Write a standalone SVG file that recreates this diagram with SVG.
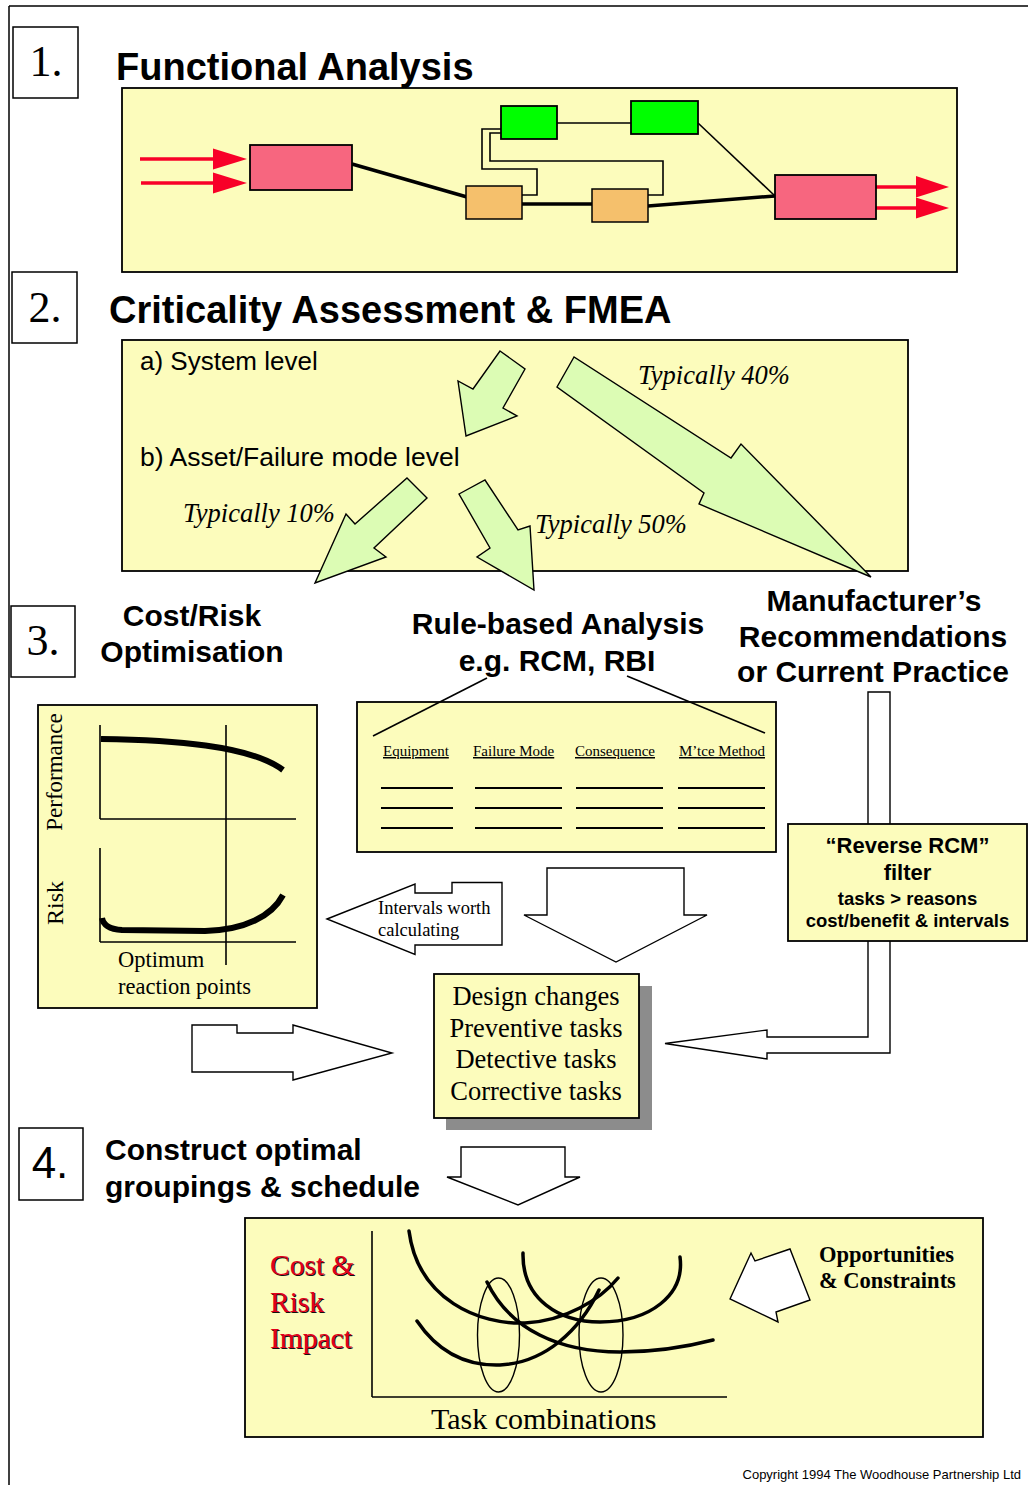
<svg xmlns="http://www.w3.org/2000/svg" width="1028" height="1485" viewBox="0 0 1028 1485">
<style>
.sans{font-family:"Liberation Sans",Arial,sans-serif}
.serif{font-family:"Liberation Serif","Times New Roman",serif}
.hd{font-family:"Liberation Sans",Arial,sans-serif;font-weight:bold;font-size:38px;fill:#000}
.h3{font-family:"Liberation Sans",Arial,sans-serif;font-weight:bold;font-size:30px;fill:#000;text-anchor:middle}
.num{font-family:"Liberation Serif","Times New Roman",serif;font-size:44px;text-anchor:middle}
.nbox{fill:#fff;stroke:#000;stroke-width:1.5}
.ybox{fill:#FCFCBC;stroke:#000;stroke-width:1.8}
.garr{fill:#DCFCB4;stroke:#000;stroke-width:1.4;stroke-linejoin:miter}
.warr{fill:#fff;stroke:#000;stroke-width:1.4}
.it{font-family:"Liberation Serif","Times New Roman",serif;font-style:italic;font-size:26.5px}
.thin{fill:none;stroke:#000;stroke-width:1.6}
.thick{fill:none;stroke:#000;stroke-width:3.5}
.curve{fill:none;stroke:#000;stroke-width:3.5;stroke-linecap:round}
.red{stroke:#F80028;stroke-width:3.5}
.redh{fill:#F80028}
.col{font-family:"Liberation Serif","Times New Roman",serif;font-size:15px;text-decoration:underline}
.blank{stroke:#000;stroke-width:1.8}
.task{font-family:"Liberation Serif","Times New Roman",serif;font-size:26.5px;text-anchor:middle}
.cri{font-family:"Liberation Serif","Times New Roman",serif;font-size:29.5px}
</style>

<!-- page border -->
<g id="page">
<line x1="9" y1="6" x2="1028" y2="6" stroke="#000" stroke-width="1.5"/>
<line x1="9" y1="6" x2="9" y2="1485" stroke="#000" stroke-width="1.5"/>
</g>

<!-- Section 1 -->
<g id="step1-label">
<rect class="nbox" x="13" y="27" width="65" height="71"/>
<text class="num" x="46" y="76">1.</text>
<text class="hd" x="116" y="80">Functional Analysis</text>
</g>
<g id="functional-box">
<rect class="ybox" x="122" y="88" width="835" height="184"/>
</g>
<g id="connectors-fa">
<line class="red" x1="140" y1="159" x2="216" y2="159"/>
<polygon class="redh" points="213,148.5 247,159 213,169.5"/>
<line class="red" x1="141" y1="183" x2="216" y2="183"/>
<polygon class="redh" points="213,172.5 247,183 213,193.5"/>
<line class="red" x1="876" y1="187" x2="919" y2="187"/>
<polygon class="redh" points="916,176 949,187 916,197.5"/>
<line class="red" x1="876" y1="208" x2="919" y2="208"/>
<polygon class="redh" points="916,197.5 949,208 916,218.5"/>
<line class="thick" x1="352" y1="164" x2="467" y2="197"/>
<line class="thick" x1="522" y1="204" x2="592" y2="204"/>
<line class="thick" x1="648" y1="206" x2="775" y2="196"/>
<line class="thin" x1="557" y1="123" x2="631" y2="123"/>
<line class="thin" x1="698" y1="123" x2="775" y2="196"/>
<path class="thin" stroke-width="2" d="M501,129 H482 V169 H537 V195 H522"/>
<path class="thin" d="M501,133 H490 V161 H663 V195 H648"/>
</g>
<g id="fa-pink-in"><rect x="250" y="145" width="102" height="45" fill="#F7667F" stroke="#000" stroke-width="1.8"/></g>
<g id="fa-orange-1"><rect x="466" y="186" width="56" height="33" fill="#F5C06C" stroke="#000" stroke-width="1.5"/></g>
<g id="fa-orange-2"><rect x="592" y="189" width="56" height="33" fill="#F5C06C" stroke="#000" stroke-width="1.5"/></g>
<g id="fa-green-1"><rect x="501" y="106" width="56" height="33" fill="#00FF00" stroke="#000" stroke-width="1.8"/></g>
<g id="fa-green-2"><rect x="631" y="101" width="67" height="33" fill="#00FF00" stroke="#000" stroke-width="1.8"/></g>
<g id="fa-pink-out"><rect x="775" y="175" width="101" height="44" fill="#F7667F" stroke="#000" stroke-width="1.8"/></g>

<!-- Section 2 -->
<g id="step2-label">
<rect class="nbox" x="12" y="272" width="65" height="71"/>
<text class="num" x="45" y="322">2.</text>
<text class="hd" x="109" y="323">Criticality Assessment &amp; FMEA</text>
</g>
<g id="criticality-box">
<rect class="ybox" x="122" y="340" width="786" height="231"/>
<text class="sans" x="140" y="370" font-size="26">a) System level</text>
<text class="sans" x="140" y="466" font-size="26.5">b) Asset/Failure mode level</text>
<text class="it" x="638" y="384">Typically 40%</text>
<text class="it" x="183" y="522">Typically 10%</text>
<text class="it" x="535" y="533">Typically 50%</text>
</g>
<g id="connectors-green">
<polygon class="garr" points="500,351 525,369 503,408 517,416 466,436 458,381 473,389"/>
<polygon class="garr" points="574,357 557,387 704,493 699,504 871,577 741,444 731,458"/>
<polygon class="garr" points="407,478 427,498 374,548 386,557 315,583 346,514 355,524"/>
<polygon class="garr" points="459,494 485,480 518,530 530,526 534,590 477,557 490,548"/>
</g>

<!-- Section 3 -->
<g id="step3-label">
<rect class="nbox" x="11" y="606" width="64" height="71"/>
<text class="num" x="43" y="655">3.</text>
</g>
<g id="cost-risk-heading">
<text class="h3" x="192" y="626">Cost/Risk</text>
<text class="h3" x="192" y="662">Optimisation</text>
</g>
<g id="rule-heading">
<text class="h3" x="558" y="634">Rule-based Analysis</text>
<text class="h3" x="557" y="671">e.g. RCM, RBI</text>
</g>
<g id="manufacturer-heading">
<text class="h3" x="874" y="611">Manufacturer’s</text>
<text class="h3" x="873" y="647">Recommendations</text>
<text class="h3" x="873" y="682">or Current Practice</text>
</g>

<g id="connectors-block">
<!-- manufacturer pipe arrow -->
<path class="warr" d="M868,692 H890 V1053 H767 V1059 L665,1043.5 L767,1030 V1037 H868 Z"/>
<!-- intervals arrow -->
<path class="warr" d="M327,919 L415,884 V893 H452 V882.5 H502 V945 H415 V954.5 Z"/>
<!-- big down arrow to task box -->
<path class="warr" d="M547,868 H684 V915 H707 L616,962 L524,915 H547 Z"/>
<!-- right arrow from chart -->
<path class="warr" d="M192,1025 H237 V1033 H293 V1025 L392,1053 L293,1080 V1072 H192 Z"/>
<!-- down arrow to step 4 -->
<path class="warr" d="M461,1147 H565 V1177 H580 L518,1205 L447,1177 H461 Z"/>
</g>

<g id="chart-box">
<rect class="ybox" x="38" y="705" width="279" height="303"/>
<text class="serif" font-size="23" text-anchor="middle" transform="translate(62,772) rotate(-90)">Performance</text>
<text class="serif" font-size="24" text-anchor="middle" transform="translate(63,903) rotate(-90)">Risk</text>
<line class="thin" x1="100" y1="725" x2="100" y2="819"/>
<line class="thin" x1="100" y1="819" x2="296" y2="819"/>
<line class="thin" x1="100" y1="848" x2="100" y2="942"/>
<line class="thin" x1="100" y1="942" x2="296" y2="942"/>
<line class="thin" x1="226" y1="725" x2="226" y2="965"/>
<path fill="none" stroke="#000" stroke-width="6" d="M101,739 C170,740 250,745 283,770"/>
<path fill="none" stroke="#000" stroke-width="6" d="M102,918 Q104,929 122,930 L205,931 C245,930 272,916 283,895"/>
<text class="serif" font-size="22.5" x="118" y="967">Optimum</text>
<text class="serif" font-size="22.5" x="118" y="994">reaction points</text>
</g>

<g id="rule-table">
<rect class="ybox" x="357" y="702" width="419" height="150"/>
<text class="col" x="383" y="756">Equipment</text>
<text class="col" x="473" y="756">Failure Mode</text>
<text class="col" x="575" y="756">Consequence</text>
<text class="col" x="679" y="756">M’tce Method</text>
<g class="blank">
<line x1="381" y1="788" x2="453" y2="788"/><line x1="475" y1="788" x2="562" y2="788"/><line x1="576" y1="788" x2="663" y2="788"/><line x1="678" y1="788" x2="765" y2="788"/>
<line x1="381" y1="808" x2="453" y2="808"/><line x1="475" y1="808" x2="562" y2="808"/><line x1="576" y1="808" x2="663" y2="808"/><line x1="678" y1="808" x2="765" y2="808"/>
<line x1="381" y1="828" x2="453" y2="828"/><line x1="475" y1="828" x2="562" y2="828"/><line x1="576" y1="828" x2="663" y2="828"/><line x1="678" y1="828" x2="765" y2="828"/>
</g>
</g>

<g id="connectors-rule">
<line class="thin" x1="487" y1="678" x2="373" y2="736"/>
<line class="thin" x1="627" y1="676" x2="765" y2="733"/>
</g>

<g id="reverse-rcm">
<rect class="ybox" x="788" y="824" width="239" height="117"/>
<text class="sans" font-weight="bold" font-size="22" text-anchor="middle" x="907.5" y="853">“Reverse RCM”</text>
<text class="sans" font-weight="bold" font-size="22" text-anchor="middle" x="907.5" y="880">filter</text>
<text class="sans" font-weight="bold" font-size="18.5" text-anchor="middle" x="907.5" y="905">tasks &gt; reasons</text>
<text class="sans" font-weight="bold" font-size="18.5" text-anchor="middle" x="907.5" y="927">cost/benefit &amp; intervals</text>
</g>

<g id="intervals-label">
<text class="serif" font-size="18.5" x="378" y="914">Intervals worth</text>
<text class="serif" font-size="18.5" x="378" y="936">calculating</text>
</g>

<g id="task-types">
<rect x="446" y="986" width="206" height="144" fill="#8C8C8C"/>
<rect class="ybox" x="434" y="974" width="205" height="144"/>
<text class="task" x="536" y="1005">Design changes</text>
<text class="task" x="536" y="1037">Preventive tasks</text>
<text class="task" x="536" y="1068">Detective tasks</text>
<text class="task" x="536" y="1100">Corrective tasks</text>
</g>

<!-- Section 4 -->
<g id="step4-label">
<rect class="nbox" x="19" y="1128" width="64" height="72"/>
<text class="sans" font-size="44" text-anchor="middle" x="50" y="1178">4.</text>
<text class="sans" font-weight="bold" font-size="30" x="105" y="1160">Construct optimal</text>
<text class="sans" font-weight="bold" font-size="30" x="105" y="1197">groupings &amp; schedule</text>
</g>

<g id="grouping-box">
<rect class="ybox" x="245" y="1218" width="738" height="219"/>
<line class="thin" x1="372" y1="1231" x2="372" y2="1397"/>
<line class="thin" x1="372" y1="1397" x2="727" y2="1397"/>
<g fill="#111">
<text class="cri" x="271" y="1276">Cost &amp;</text>
<text class="cri" x="271" y="1313">Risk</text>
<text class="cri" x="271" y="1349">Impact</text>
</g>
<g fill="#E0001B">
<text class="cri" x="270" y="1275">Cost &amp;</text>
<text class="cri" x="270" y="1312">Risk</text>
<text class="cri" x="270" y="1348">Impact</text>
</g>
<path class="curve" d="M409,1231 C418,1300 480,1325 525,1323 C565,1321 600,1300 618,1278"/>
<path class="curve" d="M417,1321 C440,1355 470,1366 500,1365 C545,1363 580,1330 599,1290"/>
<path class="curve" d="M523,1253 C522,1300 560,1322 600,1322 C650,1322 685,1295 680,1257"/>
<path class="curve" d="M487,1282 C510,1330 560,1352 620,1352 C660,1352 690,1346 713,1340"/>
<ellipse cx="498.5" cy="1335" rx="21" ry="57" fill="none" stroke="#000" stroke-width="1.4"/>
<ellipse cx="601" cy="1335" rx="22" ry="57" fill="none" stroke="#000" stroke-width="1.4"/>
<text class="serif" font-size="30" x="431" y="1429">Task combinations</text>
<polygon class="warr" points="730,1299 751,1253 755,1261 790,1249 810,1300 776,1312 778,1322"/>
<text class="serif" font-weight="bold" font-size="22.5" x="819" y="1262">Opportunities</text>
<text class="serif" font-weight="bold" font-size="22.5" x="819" y="1288">&amp; Constraints</text>
</g>

<g id="copyright">
<text class="sans" font-size="13" text-anchor="end" x="1021" y="1479">Copyright 1994 The Woodhouse Partnership Ltd</text>
</g>
</svg>
